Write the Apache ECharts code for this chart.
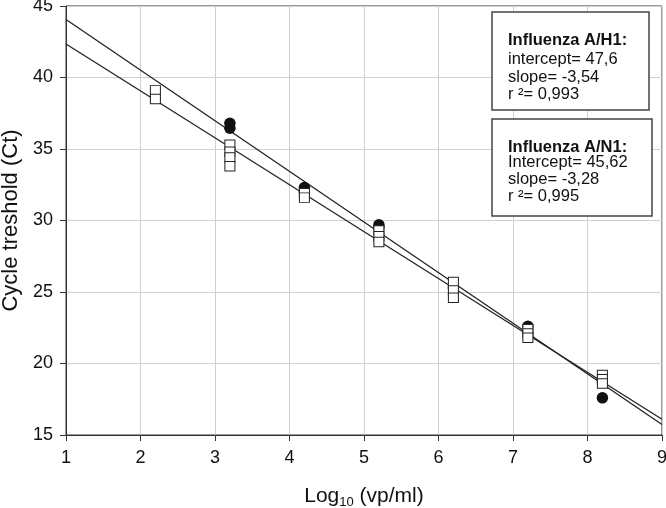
<!DOCTYPE html>
<html>
<head>
<meta charset="utf-8">
<script src="https://cdn.jsdelivr.net/npm/echarts@6/dist/echarts.min.js"></script>
<style>html,body{margin:0;padding:0;background:#fff}#c{width:666px;height:508px}</style>
</head>
<body>
<div id="c"></div>
<script>
// Influenza A/H1 (filled circles)
var h1X = [3.2, 3.2, 4.2, 4.2, 5.2, 5.2, 6.2, 7.2, 8.2];
var h1Y = [36.8, 36.45, 32.3, 32.0, 29.7, 29.5, 25.3, 22.6, 17.6];
// Influenza A/N1 (open squares)
var n1X = [2.2, 2.2, 3.2, 3.2, 3.2, 3.2, 4.2, 4.2, 5.2, 5.2, 5.2, 6.2, 6.2, 6.2, 7.2, 7.2, 7.2, 8.2, 8.2, 8.2];
var n1Y = [39.1, 38.5, 35.3, 34.8, 34.4, 33.8, 31.9, 31.6, 29.3, 28.9, 28.5, 25.7, 25.1, 24.6, 22.4, 22.1, 21.8, 19.2, 18.9, 18.6];
// regression lines
var fitNames = ['Influenza A/H1', 'Influenza A/N1'];
var intercepts = [47.6, 45.62];
var slopes = [-3.54, -3.28];
var xRange = [1, 9];
// annotation texts
var box1Lines = ['Influenza A/H1:', 'intercept= 47,6', 'slope= -3,54', 'r \u00b2= 0,993'];
var box2Lines = ['Influenza A/N1:', 'Intercept= 45,62', 'slope= -3,28', 'r \u00b2= 0,995'];
var yTitle = 'Cycle treshold (Ct)';

var FONT = '"Liberation Sans", Arial, sans-serif';
function pairs(xs, ys) { return xs.map(function (x, i) { return [x, ys[i]]; }); }
function fitLine(i) { return xRange.map(function (x) { return [x, intercepts[i] + slopes[i] * x]; }); }

function box(x, y, w, h, lines, ys) {
  var children = [{
    type: 'rect', z: 100, shape: { x: x, y: y, width: w, height: h },
    style: { fill: '#fff', stroke: '#444', lineWidth: 1.5 }
  }];
  lines.forEach(function (t, i) {
    children.push({
      type: 'text', z: 101, x: 508, y: ys[i],
      style: { text: t, fill: '#111', font: (i === 0 ? 'bold ' : '') + '16.5px ' + FONT, textVerticalAlign: 'middle' }
    });
  });
  return children;
}

var chart = echarts.init(document.getElementById('c'), null, { renderer: 'canvas' });
chart.setOption({
  animation: false,
  backgroundColor: '#fff',
  textStyle: { fontFamily: FONT },
  grid: { left: 66, right: 4, top: 6, bottom: 73, containLabel: false, outerBoundsMode: 'none', show: true, borderColor: '#333', borderWidth: 1, backgroundColor: 'transparent' },
  xAxis: {
    type: 'value', min: 1, max: 9, interval: 1,
    name: 'Log{sub|10} (vp/ml)', nameLocation: 'middle', nameGap: 49,
    nameTextStyle: { fontSize: 21, color: '#111', rich: { sub: { fontSize: 13, verticalAlign: 'bottom', padding: [12, 0, 0, 0] } } },
    axisLine: { lineStyle: { color: '#333', width: 1 } },
    axisTick: { show: true, inside: false, length: 6, lineStyle: { color: '#333' } },
    axisLabel: { fontSize: 18, color: '#111', margin: 14 },
    splitLine: { show: true, lineStyle: { color: '#d0d0d0', width: 1 } }
  },
  yAxis: {
    type: 'value', min: 15, max: 45, interval: 5,
    name: yTitle, nameLocation: 'middle', nameGap: 43,
    nameTextStyle: { fontSize: 22, color: '#111' },
    axisLine: { show: true, lineStyle: { color: '#333', width: 1 } },
    axisTick: { show: true, inside: false, length: 6, lineStyle: { color: '#333' } },
    axisLabel: { fontSize: 18, color: '#111', margin: 13 },
    splitLine: { show: true, lineStyle: { color: '#d0d0d0', width: 1 } }
  },
  series: [
    { name: fitNames[0] + ' fit', type: 'line', data: fitLine(0), symbol: 'none', silent: true, lineStyle: { color: '#222', width: 1.3 }, z: 3 },
    { name: fitNames[1] + ' fit', type: 'line', data: fitLine(1), symbol: 'none', silent: true, lineStyle: { color: '#222', width: 1.3 }, z: 3 },
    { name: fitNames[0], type: 'scatter', data: pairs(h1X, h1Y), symbol: 'circle', symbolSize: 11.5, itemStyle: { color: '#111', opacity: 1 }, z: 4 },
    { name: fitNames[1], type: 'scatter', data: pairs(n1X, n1Y), symbol: 'rect', symbolSize: [10, 9.5], itemStyle: { color: '#fff', borderColor: '#222', borderWidth: 1, opacity: 1 }, z: 5 }
  ],
  graphic: box(492, 12, 157, 98, box1Lines, [40, 59, 77, 94]).concat(box(492, 119, 160, 97, box2Lines, [147, 162, 179, 196]))
});
</script>
</body>
</html>
